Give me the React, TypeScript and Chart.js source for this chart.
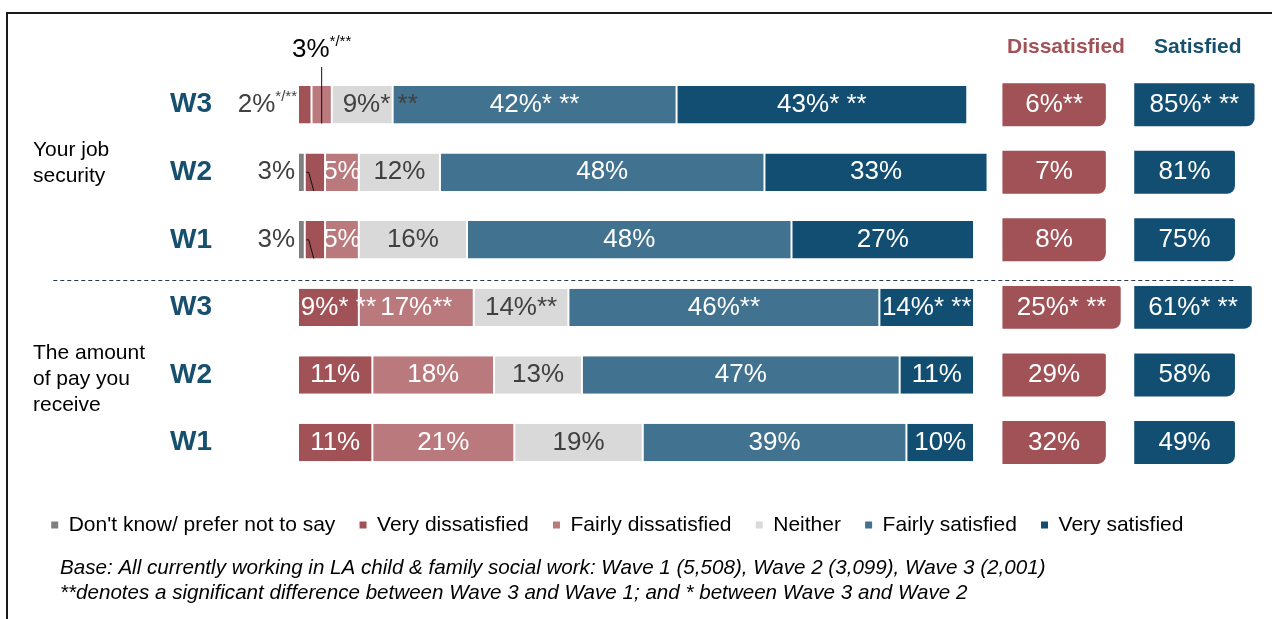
import React, { useEffect, useRef } from "react";
import { Chart, registerables } from "chart.js";

Chart.register(...registerables);

const FONT = "'Liberation Sans', Arial, Helvetica, sans-serif";

// ---------------- data ----------------
const waveLabels = ["W3", "W2", "W1", "W3", "W2", "W1"];
const groupNames = [["Your job", "security"], ["The amount", "of pay you", "receive"]];
const seriesNames = [
  "Don't know/ prefer not to say",
  "Very dissatisfied",
  "Fairly dissatisfied",
  "Neither",
  "Fairly satisfied",
  "Very satisfied",
];
const dontKnow = [0, 1, 1, 0, 0, 0];
const veryDissatisfied = [2, 3, 3, 9, 11, 11];
const fairlyDissatisfied = [3, 5, 5, 17, 18, 21];
const neither = [9, 12, 16, 14, 13, 19];
const fairlySatisfied = [42, 48, 48, 46, 47, 39];
const verySatisfied = [43, 33, 27, 14, 11, 10];
const dissatisfiedNet = [6, 7, 8, 25, 29, 32];
const satisfiedNet = [85, 81, 75, 61, 58, 49];

const sigDontKnow = ["", "", "", "", "", ""];
const sigVeryDissatisfied = ["*/**", "", "", "* **", "", ""];
const sigFairlyDissatisfied = ["*/**", "", "", "**", "", ""];
const sigNeither = ["* **", "", "", "**", "", ""];
const sigFairlySatisfied = ["* **", "", "", "**", "", ""];
const sigVerySatisfied = ["* **", "", "", "* **", "", ""];
const sigDissatisfiedNet = ["**", "", "", "* **", "", ""];
const sigSatisfiedNet = ["* **", "", "", "* **", "", ""];

const netHeaders = ["Dissatisfied", "Satisfied"];
const footnotes = [
  "Base: All currently working in LA child & family social work: Wave 1 (5,508), Wave 2 (3,099), Wave 3 (2,001)",
  "**denotes a significant difference between Wave 3 and Wave 1; and * between Wave 3 and Wave 2",
];

// ---------------- layout / style ----------------
const W = 1272;
const H = 619;
const X_MAX = 142.6;
const segColors = ["#7F7F7F", "#A05257", "#BA7A7D", "#D9D9D9", "#41728F", "#124E72"];
const segTextColors = ["#404040", "#FFFFFF", "#FFFFFF", "#404040", "#FFFFFF", "#FFFFFF"];
const dissColor = "#A05257";
const satColor = "#124E72";
const waveColor = "#17506F";
const LABEL_SIZE = 26;
const SUP_SIZE = 15;
const dissBoxStart = 104.2;
const dissBoxEnd = [119.5, 119.5, 119.5, 121.7, 119.5, 119.5];
const satBoxStart = 123.7;
const satBoxEnd = [141.5, 138.6, 138.6, 141.1, 138.6, 138.6];
const headerX = [113.6, 133.1];
const groupY = [0.86, 4.06];
const separatorY = 2.6;
const labelMode: Record<string, string> = { "0-1": "left", "1-1": "leftLeader", "2-1": "leftLeader", "0-2": "above" };
const labelShift: Record<string, number> = { "0-3": 18, "3-1": 10 };

const seriesValues = [dontKnow, veryDissatisfied, fairlyDissatisfied, neither, fairlySatisfied, verySatisfied];
const seriesSig = [sigDontKnow, sigVeryDissatisfied, sigFairlyDissatisfied, sigNeither, sigFairlySatisfied, sigVerySatisfied];

type Part = { text: string; size: number; weight?: string; style?: string; dy?: number };

function fontOf(p: Part) {
  return `${p.style || "normal"} ${p.weight || "normal"} ${p.size}px ${FONT}`;
}

function drawParts(ctx: CanvasRenderingContext2D, parts: Part[], x: number, y: number, align: string, color: string) {
  let total = 0;
  const widths = parts.map((p) => {
    ctx.font = fontOf(p);
    const w = ctx.measureText(p.text).width;
    total += w;
    return w;
  });
  let cx = align === "center" ? x - total / 2 : align === "right" ? x - total : x;
  ctx.fillStyle = color;
  ctx.textAlign = "left";
  ctx.textBaseline = "middle";
  parts.forEach((p, k) => {
    ctx.font = fontOf(p);
    ctx.fillText(p.text, cx, y + (p.dy || 0));
    cx += widths[k];
  });
  return total;
}

function labelParts(value: number, sig: string, size: number): Part[] {
  if (sig.includes("/")) return [{ text: value + "%", size }, { text: sig, size: SUP_SIZE, dy: -8 }];
  return [{ text: value + "%" + sig, size }];
}

const annotatePlugin = {
  id: "annotate",
  beforeDraw(chart: any) {
    const ctx = chart.ctx as CanvasRenderingContext2D;
    ctx.save();
    ctx.fillStyle = "#FFFFFF";
    ctx.fillRect(0, 0, chart.width, chart.height);
    ctx.strokeStyle = "#1A1A1A";
    ctx.lineWidth = 2;
    ctx.beginPath();
    ctx.moveTo(7, chart.height);
    ctx.lineTo(7, 13);
    ctx.lineTo(chart.width, 13);
    ctx.stroke();
    ctx.restore();
  },
  afterDraw(chart: any) {
    const ctx = chart.ctx as CanvasRenderingContext2D;
    const xs = chart.scales.x;
    const ys = chart.scales.y;
    const zeroX = xs.getPixelForValue(0);
    ctx.save();

    // separator
    ctx.strokeStyle = "#2B3A4A";
    ctx.lineWidth = 1;
    ctx.setLineDash([4, 3]);
    const sy = Math.round(ys.getPixelForValue(separatorY)) + 0.5;
    ctx.beginPath();
    ctx.moveTo(xs.getPixelForValue(-36.2), sy);
    ctx.lineTo(xs.getPixelForValue(138.6), sy);
    ctx.stroke();
    ctx.setLineDash([]);

    // segment labels
    for (let s = 1; s < 6; s++) {
      const meta = chart.getDatasetMeta(s);
      meta.data.forEach((el: any, i: number) => {
        const p = el.getProps(["x", "y", "base", "height"], true);
        const left = Math.min(p.x, p.base);
        const right = Math.max(p.x, p.base);
        const top = p.y - p.height / 2;
        const bottom = p.y + p.height / 2;
        const key = `${i}-${s}`;
        const mode = labelMode[key] || "inside";
        const parts = labelParts(seriesValues[s][i], seriesSig[s][i], LABEL_SIZE);
        if (mode === "inside") {
          drawParts(ctx, parts, (left + right) / 2 + (labelShift[key] || 0), p.y, "center", segTextColors[s]);
        } else if (mode === "left") {
          drawParts(ctx, parts, zeroX - 1, p.y, "right", "#404040");
        } else if (mode === "leftLeader") {
          drawParts(ctx, parts, zeroX - 3, p.y, "right", "#404040");
          const dk = chart.getDatasetMeta(0).data[i].getProps(["x"], true).x;
          ctx.strokeStyle = "#111111";
          ctx.lineWidth = 1;
          ctx.beginPath();
          ctx.moveTo(dk + 1.5, p.y);
          ctx.lineTo(left + 4, p.y);
          ctx.lineTo(left + 9, bottom);
          ctx.stroke();
        } else if (mode === "above") {
          const cx = (left + right) / 2;
          drawParts(ctx, parts, cx, top - 36, "center", "#000000");
          ctx.strokeStyle = "#111111";
          ctx.lineWidth = 1;
          ctx.beginPath();
          ctx.moveTo(cx, top - 19);
          ctx.lineTo(cx, bottom);
          ctx.stroke();
        }
      });
    }

    // net boxes labels
    const nets = [
      { ds: 6, vals: dissatisfiedNet, sig: sigDissatisfiedNet },
      { ds: 7, vals: satisfiedNet, sig: sigSatisfiedNet },
    ];
    nets.forEach((n) => {
      chart.getDatasetMeta(n.ds).data.forEach((el: any, i: number) => {
        const p = el.getProps(["x", "y", "base"], true);
        drawParts(ctx, labelParts(n.vals[i], n.sig[i], LABEL_SIZE), (p.x + p.base) / 2, p.y, "center", "#FFFFFF");
      });
    });

    // headers
    drawParts(ctx, [{ text: netHeaders[0], size: 21, weight: "bold" }], xs.getPixelForValue(headerX[0]), 47, "center", dissColor);
    drawParts(ctx, [{ text: netHeaders[1], size: 21, weight: "bold" }], xs.getPixelForValue(headerX[1]), 47, "center", waveColor);

    // group labels
    groupNames.forEach((lines, g) => {
      const cy = ys.getPixelForValue(groupY[g]);
      const lh = 26;
      lines.forEach((t, k) => {
        drawParts(ctx, [{ text: t, size: 21 }], 33, cy + (k - (lines.length - 1) / 2) * lh, "left", "#000000");
      });
    });

    // footnotes
    footnotes.forEach((t, k) => {
      drawParts(ctx, [{ text: t, size: 20.6, style: "italic" }], 60, 568 + k * 25, "left", "#000000");
    });

    ctx.restore();
  },
};

export default function App() {
  const ref = useRef<HTMLCanvasElement | null>(null);

  useEffect(() => {
    if (!ref.current) return;
    Chart.defaults.font.family = FONT;
    Chart.defaults.color = "#000000";

    const starts = waveLabels.map(() => 0);
    const segDatasets = seriesValues.map((vals, s) => {
      const data = vals.map((v, i) => {
        const a = starts[i];
        starts[i] += v;
        return [a, a + v];
      });
      return {
        label: seriesNames[s],
        data,
        backgroundColor: segColors[s],
        borderColor: "#FFFFFF",
        borderWidth: { left: 1, right: 1, top: 0, bottom: 0 },
        borderSkipped: false,
        grouped: false,
        categoryPercentage: 1,
        barPercentage: 0.555,
      };
    });
    const boxDatasets = [
      {
        label: netHeaders[0],
        data: waveLabels.map((_, i) => [dissBoxStart, dissBoxEnd[i]]),
        backgroundColor: dissColor,
        borderWidth: 0,
        borderSkipped: false,
        borderRadius: { topLeft: 0, topRight: 2, bottomLeft: 0, bottomRight: 8 },
        grouped: false,
        categoryPercentage: 1,
        barPercentage: 0.636,
      },
      {
        label: netHeaders[1],
        data: waveLabels.map((_, i) => [satBoxStart, satBoxEnd[i]]),
        backgroundColor: satColor,
        borderWidth: 0,
        borderSkipped: false,
        borderRadius: { topLeft: 0, topRight: 2, bottomLeft: 0, bottomRight: 8 },
        grouped: false,
        categoryPercentage: 1,
        barPercentage: 0.636,
      },
    ];

    const chart = new Chart(ref.current, {
      type: "bar",
      data: { labels: waveLabels, datasets: [...segDatasets, ...boxDatasets] as any },
      options: {
        indexAxis: "y",
        animation: false,
        responsive: false,
        layout: { padding: { left: 27, right: 10, top: 71, bottom: 73.6 } },
        scales: {
          x: {
            min: 0,
            max: X_MAX,
            display: true,
            grid: { display: false, drawTicks: false },
            border: { display: false },
            ticks: { display: false },
            afterFit: (s: any) => {
              s.height = 14;
            },
          },
          y: {
            grid: { display: false, drawTicks: false },
            border: { display: false },
            ticks: { font: { size: 28, weight: "bold" }, color: waveColor, padding: 86 },
            afterFit: (s: any) => {
              s.width = 271;
              s.paddingTop = 0;
              s.paddingBottom = 0;
            },
          },
        },
        plugins: {
          tooltip: { enabled: false },
          legend: {
            position: "bottom",
            align: "start",
            labels: {
              boxWidth: 7,
              boxHeight: 7,
              padding: 24.2,
              color: "#000000",
              font: { size: 21 },
              generateLabels: () =>
                seriesNames.map((n, i) => ({
                  text: n,
                  fillStyle: segColors[i],
                  strokeStyle: segColors[i],
                  lineWidth: 0,
                  hidden: false,
                  datasetIndex: i,
                  fontColor: "#000000",
                })),
            },
          },
        },
      } as any,
      plugins: [annotatePlugin],
    });
    return () => chart.destroy();
  }, []);

  return (
    <div style={{ position: "fixed", left: 0, top: 0, width: W, height: H, overflow: "hidden" }}>
      <canvas ref={ref} width={W} height={H} style={{ display: "block", width: W, height: H }} />
    </div>
  );
}
